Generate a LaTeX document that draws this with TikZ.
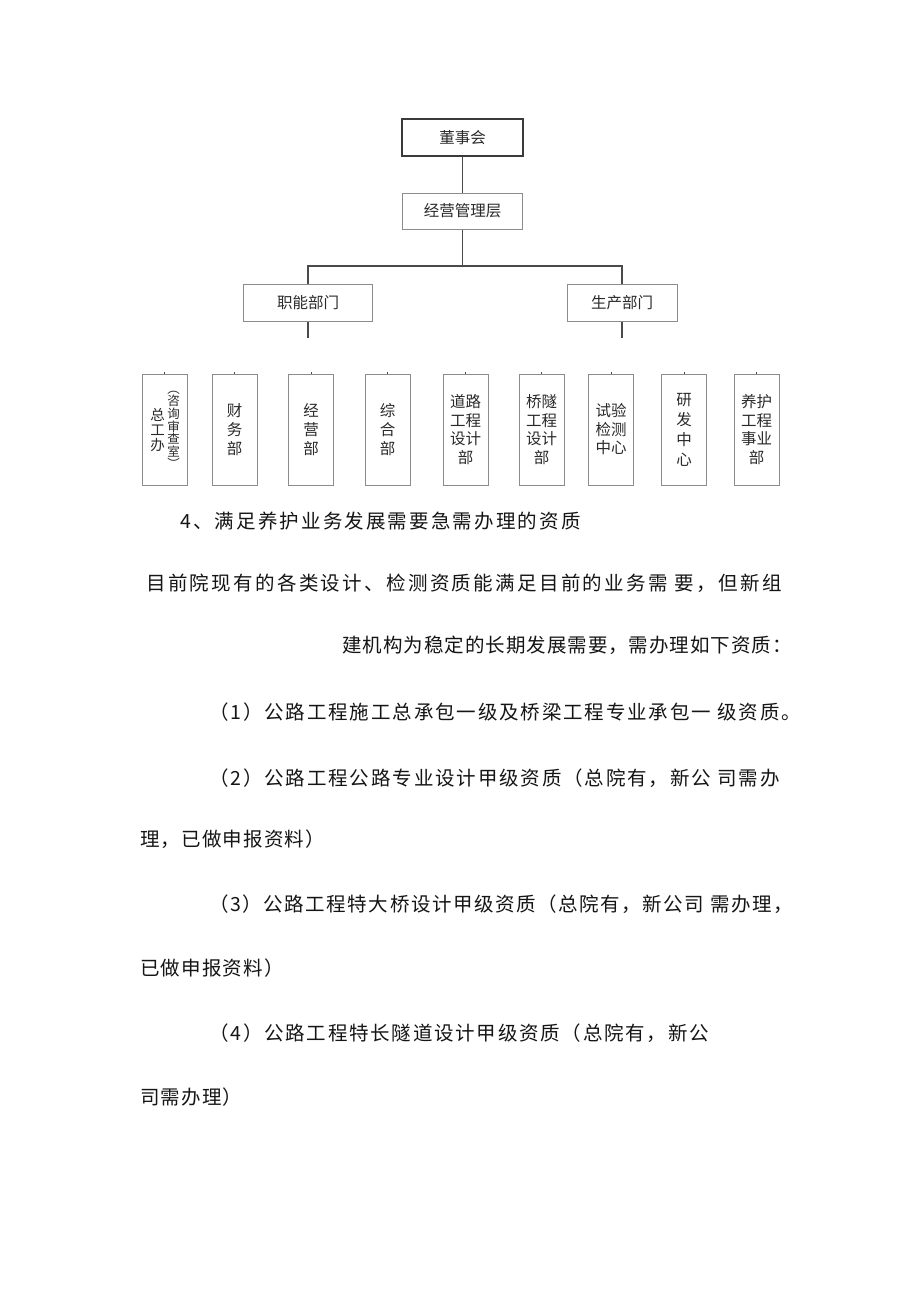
\documentclass[tikz,border=0pt]{standalone}
\usepackage{fontspec}
\setmainfont{Noto Sans CJK SC}
\newfontfamily\bodyA[LetterSpace=11]{Noto Sans CJK SC}
\newfontfamily\bodyB[LetterSpace=12]{Noto Sans CJK SC}
\newfontfamily\bodyC[LetterSpace=9]{Noto Sans CJK SC}
\newfontfamily\bodyD[LetterSpace=5]{Noto Sans CJK SC}
\newfontfamily\bodyE[LetterSpace=6]{Noto Sans CJK SC}
\newfontfamily\bodyF[LetterSpace=9.5]{Noto Sans CJK SC}
\newfontfamily\bodyG[LetterSpace=8]{Noto Sans CJK SC}
\definecolor{boxgray}{HTML}{8C8C8C}
\definecolor{darkline}{HTML}{3A3A3A}
\definecolor{conn}{HTML}{4A4A4A}
\definecolor{textgray}{HTML}{2A2A2A}
\definecolor{bodyink}{HTML}{151515}
\tikzset{
  box/.style={draw=boxgray, line width=1pt, rectangle, inner sep=0pt, align=center, text=textgray,
              font=\fontsize{15.5}{18}\selectfont},
  topbox/.style={box, draw=darkline, line width=1.6pt},
  bbox/.style={box, minimum width=45pt, minimum height=111pt, font=\fontsize{15.5}{19}\selectfont},
  connector/.style={draw=conn, line width=1.5pt},
  tick/.style={draw=conn, line width=0.8pt},
  bodytext/.style={inner sep=0pt, anchor=west, text=bodyink},
  smallcol/.style={inner sep=0pt, align=center, text=textgray}
}
\begin{document}
\begin{tikzpicture}[x=1pt,y=-1pt]
\useasboundingbox[fill=white] (0,0) rectangle (920,1301);

% top hierarchy
\node[topbox, minimum width=121pt, minimum height=37pt] (dsh) at (462.5,137.5) {董事会};
\node[box, minimum width=120pt, minimum height=36pt] (jy) at (462.5,211) {经营管理层};
\node[box, minimum width=129pt, minimum height=37pt] (zn) at (308,302.5) {职能部门};
\node[box, minimum width=110pt, minimum height=37pt] (sc) at (622,302.5) {生产部门};

\coordinate (hub) at (462.5,266);
\coordinate (znend) at (308,338);
\coordinate (scend) at (622,338);

\draw[connector] (dsh.south) -- (jy.north);
\draw[connector] (jy.south) -- (hub);
\draw[connector] (zn.north) -- (zn.north |- hub) -- (sc.north |- hub) -- (sc.north);
\draw[connector] (zn.south) -- (znend);
\draw[connector] (sc.south) -- (scend);

% bottom boxes
\node[bbox] (b1) at (164.5,429.5) {};
\node[smallcol, font=\fontsize{14.5}{15}\selectfont] (b1a) at (157.5,430) {总\\工\\办};
\node[smallcol, font=\fontsize{12.5}{12.6}\selectfont] (b1b) at (173.5,430) {︵\\咨\\询\\审\\查\\室\\︶};
\node[bbox] (b2) at (234.5,429.5) {财\\务\\部};
\node[bbox] (b3) at (311,429.5) {经\\营\\部};
\node[bbox] (b4) at (387.5,429.5) {综\\合\\部};
\node[bbox, font=\fontsize{15.5}{18.5}\selectfont] (b5) at (465.5,429.5) {道路\\工程\\设计\\部};
\node[bbox, font=\fontsize{15.5}{18.5}\selectfont] (b6) at (541.5,429.5) {桥隧\\工程\\设计\\部};
\node[bbox, font=\fontsize{15.5}{18.5}\selectfont] (b7) at (611,429.5) {试验\\检测\\中心};
\node[bbox, font=\fontsize{15.5}{20}\selectfont] (b8) at (684,429.5) {研\\发\\中\\心};
\node[bbox, font=\fontsize{15.5}{18.5}\selectfont] (b9) at (756.5,429.5) {养护\\工程\\事业\\部};

\foreach \b in {b1,b2,b3,b4,b5,b6,b7,b8,b9}{
  \draw[tick] (\b.north) -- ++(0,-2);
}

% body text
\node[bodytext, font=\bodyA\fontsize{19.5}{21}\selectfont] (t1) at (180,521) {4、满足养护业务发展需要急需办理的资质};
\node[bodytext, font=\bodyB\fontsize{19.5}{21}\selectfont] (t2) at (146,583) {目前院现有的各类设计、检测资质能满足目前的业务需 要，但新组};
\node[bodytext, anchor=east, font=\bodyD\fontsize{19.5}{21}\selectfont] (t3) at (792,645) {建机构为稳定的长期发展需要，需办理如下资质：};
\node[bodytext, font=\bodyF\fontsize{19.5}{21}\selectfont] (t4) at (209,712) {（1）公路工程施工总承包一级及桥梁工程专业承包一 级资质。};
\node[bodytext, font=\bodyF\fontsize{19.5}{21}\selectfont] (t5) at (209,778) {（2）公路工程公路专业设计甲级资质（总院有，新公 司需办};
\node[bodytext, font=\bodyE\fontsize{19.5}{21}\selectfont] (t6) at (140,839) {理，已做申报资料）};
\node[bodytext, font=\bodyG\fontsize{19.5}{21}\selectfont] (t7) at (209,904) {（3）公路工程特大桥设计甲级资质（总院有，新公司 需办理，};
\node[bodytext, font=\bodyE\fontsize{19.5}{21}\selectfont] (t8) at (140,968) {已做申报资料）};
\node[bodytext, font=\bodyC\fontsize{19.5}{21}\selectfont] (t9) at (209,1033) {（4）公路工程特长隧道设计甲级资质（总院有，新公};
\node[bodytext, font=\bodyE\fontsize{19.5}{21}\selectfont] (t10) at (140,1097) {司需办理）};
\end{tikzpicture}
\end{document}
